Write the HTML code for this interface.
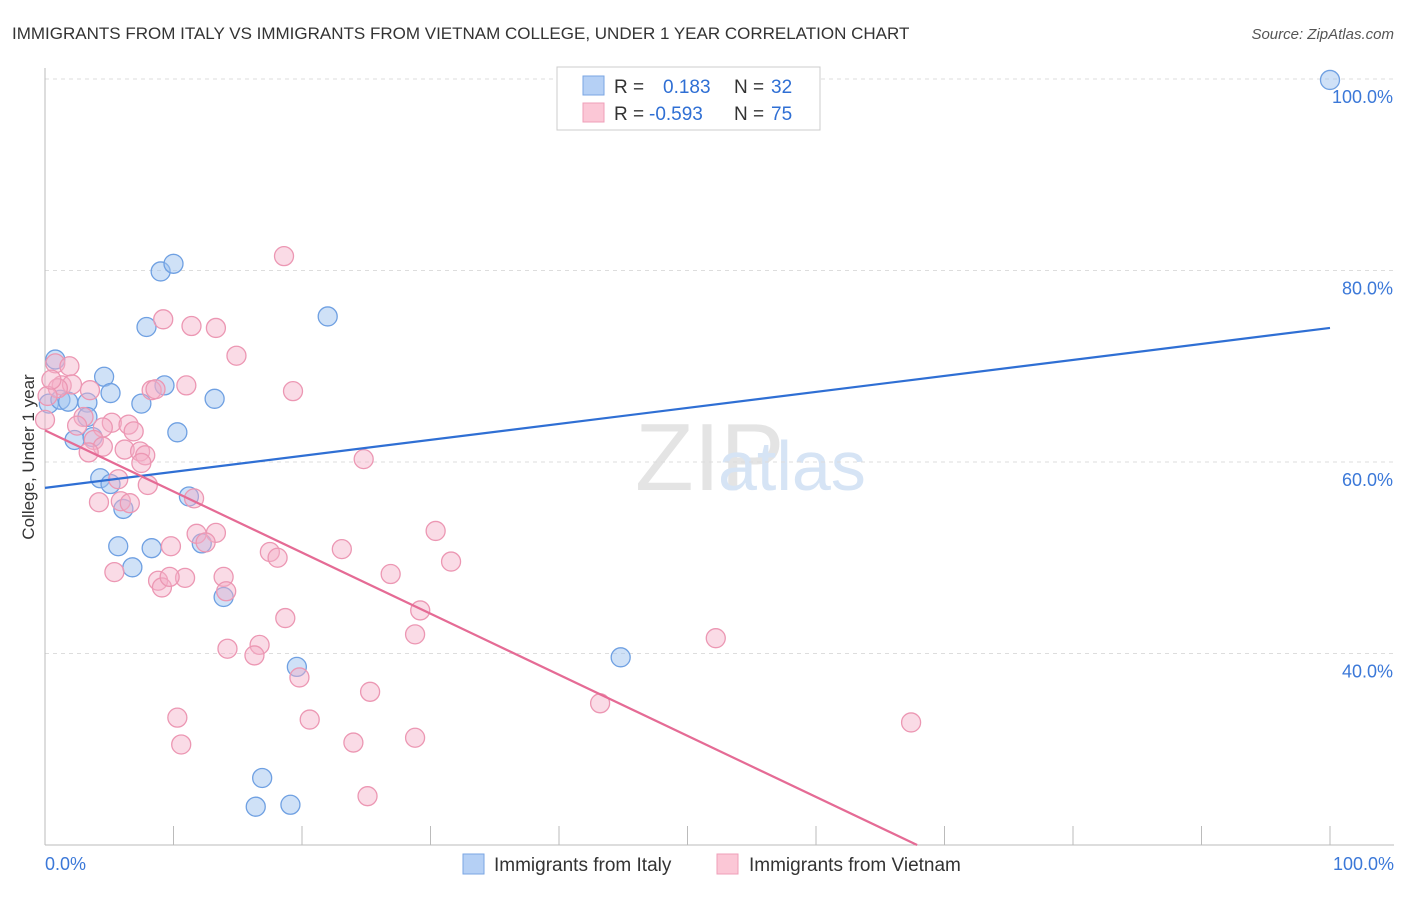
<!DOCTYPE html>
<html><head><meta charset="utf-8"><style>
body{margin:0;background:#fff;font-family:"Liberation Sans",sans-serif;}
svg text{font-family:"Liberation Sans",sans-serif;}
</style></head><body>
<svg id="chart" width="1406" height="892" viewBox="0 0 1406 892">
<text x="12" y="39" font-size="17" fill="#333">IMMIGRANTS FROM ITALY VS IMMIGRANTS FROM VIETNAM COLLEGE, UNDER 1 YEAR CORRELATION CHART</text>
<text x="1394" y="39" font-size="15" fill="#555" font-style="italic" text-anchor="end">Source: ZipAtlas.com</text>
<text x="635" y="490" font-size="96" fill="#e4e4e4" font-family="Liberation Serif">ZIP</text>
<text x="718" y="490" font-size="70" fill="#d6e4f5">atlas</text>
<g id="grid"></g>
<g id="axes"></g>
<g id="pts"></g>
<g id="trend"></g>
<text transform="translate(34,457) rotate(-90)" font-size="17" fill="#333" text-anchor="middle">College, Under 1 year</text>
<g>
<rect x="557" y="67" width="263" height="63" fill="#fff" stroke="#ccc"/>
<rect x="583" y="76" width="21" height="19" fill="#b5d0f5" stroke="#7aa6e3"/>
<rect x="583" y="103" width="21" height="19" fill="#fbc7d6" stroke="#ef9fb8"/>
<text x="614" y="93" font-size="19" fill="#333">R = </text><text x="663" y="93" font-size="19" fill="#2f6fd4">0.183</text>
<text x="734" y="93" font-size="19" fill="#333">N = </text><text x="771" y="93" font-size="19" fill="#2f6fd4">32</text>
<text x="614" y="120" font-size="19" fill="#333">R = </text><text x="649" y="120" font-size="19" fill="#2f6fd4">-0.593</text>
<text x="734" y="120" font-size="19" fill="#333">N = </text><text x="771" y="120" font-size="19" fill="#2f6fd4">75</text>
</g>
<g>
<rect x="463" y="854" width="21" height="20" fill="#b5d0f5" stroke="#7aa6e3"/>
<text x="494" y="871" font-size="19" fill="#333">Immigrants from Italy</text></g>
<g>
<rect x="717" y="854" width="21" height="20" fill="#fbc7d6" stroke="#ef9fb8"/>
<text x="749" y="871" font-size="19" fill="#333">Immigrants from Vietnam</text></g>
</svg>
<script>
const italyX=[100,0.8,4.6,0.3,1.2,1.8,3.3,5.1,7.5,9.3,13.2,9.0,10.0,7.9,22.0,10.3,3.3,2.3,3.7,4.3,5.1,6.1,11.2,12.2,5.7,8.3,6.8,13.9,19.6,44.8,16.9,16.4,19.1];
const italyY=[99.9,70.7,68.9,66.1,66.5,66.3,66.2,67.2,66.1,68.0,66.6,79.9,80.7,74.1,75.2,63.1,64.7,62.3,62.6,58.3,57.7,55.1,56.4,51.5,51.2,51.0,49.0,45.9,38.6,39.6,27.0,24.0,24.2];
const vietX=[18.6,9.2,11.4,13.3,14.9,0.8,1.9,1.3,2.1,1.0,0.2,0.0,3.5,0.5,11.0,8.3,8.6,19.3,3.0,5.2,6.5,2.5,4.5,6.9,3.8,6.2,7.4,7.8,4.5,3.4,7.5,8.0,5.7,4.2,5.9,6.6,11.6,24.8,30.4,11.8,13.3,12.5,9.8,17.5,18.1,23.1,31.6,5.4,8.8,9.1,10.9,9.7,13.9,14.1,26.9,29.2,18.7,28.8,52.2,14.2,16.7,16.3,19.8,25.3,43.2,10.3,20.6,67.4,10.6,24.0,28.8,25.1];
const vietY=[81.5,74.9,74.2,74.0,71.1,70.3,70.0,68.0,68.1,67.7,66.9,64.4,67.5,68.6,68.0,67.5,67.6,67.4,64.7,64.1,63.9,63.8,63.6,63.2,62.3,61.3,61.1,60.7,61.6,61.0,59.9,57.6,58.2,55.8,55.9,55.7,56.2,60.3,52.8,52.5,52.6,51.6,51.2,50.6,50.0,50.9,49.6,48.5,47.6,46.9,47.9,48.0,48.0,46.5,48.3,44.5,43.7,42.0,41.6,40.5,40.9,39.8,37.5,36.0,34.8,33.3,33.1,32.8,30.5,30.7,31.2,25.1];
const yTicks=[100,80,60,40];
const yTickLabels=["100.0%","80.0%","60.0%","40.0%"];
const xTickLabels=["0.0%","100.0%"];
const italyTrend=[57.3,74.0];      // y at x=0, y at x=100
const vietTrend=[63.3,-0.638];     // intercept, slope
const X=v=>45+v*12.85, Y=v=>79+(100-v)*9.575;
const NS="http://www.w3.org/2000/svg";
function mk(t,a,p){const e=document.createElementNS(NS,t);for(const k in a)e.setAttribute(k,a[k]);p.appendChild(e);return e;}
const grid=document.getElementById('grid'),axes=document.getElementById('axes'),pts=document.getElementById('pts'),tr=document.getElementById('trend');
yTicks.forEach((v,i)=>{
 const l=mk('line',{x1:45,x2:1394,y1:Y(v),y2:Y(v),stroke:'#ddd','stroke-dasharray':'4,4'},grid);
 
 
 const t=mk('text',{x:1393,y:Y(v)+24,'font-size':18,fill:'#3b78d8','text-anchor':'end'},axes);
 t.textContent=yTickLabels[i];
 
 
});
const yl=mk('line',{x1:45,x2:45,y1:68,y2:845,stroke:'#bbb'},axes);


const xl=mk('line',{x1:45,x2:1394,y1:845,y2:845,stroke:'#bbb'},axes);


for(let i=0;i<=10;i++){const t=mk('line',{x1:X(i*10),x2:X(i*10),y1:826,y2:845,stroke:'#bbb'},axes);
 
 }
[[0,'start',45],[100,'end',1394]].forEach((d,i)=>{const t=mk('text',{x:d[2],y:870,'font-size':18,fill:'#3b78d8','text-anchor':d[1]},axes);t.textContent=xTickLabels[i];
 
 });
italyX.forEach((x,i)=>{const c=mk('circle',{cx:X(x),cy:Y(italyY[i]),r:9.5,fill:'rgba(160,195,240,0.5)',stroke:'#6fa0e2','stroke-width':1.3},pts);
 
 });
vietX.forEach((x,i)=>{const c=mk('circle',{cx:X(x),cy:Y(vietY[i]),r:9.5,fill:'rgba(245,175,200,0.45)',stroke:'#ec97b3','stroke-width':1.3},pts);
 
 });
const bl=mk('line',{x1:X(0),y1:Y(italyTrend[0]),x2:X(100),y2:Y(italyTrend[1]),stroke:'#2f6fd4','stroke-width':2.2},tr);


const xe=(20-vietTrend[0])/vietTrend[1];
const pl=mk('line',{x1:X(0),y1:Y(vietTrend[0]),x2:X(xe),y2:Y(20),stroke:'#e56b95','stroke-width':2.2},tr);


</script>
</body></html>
